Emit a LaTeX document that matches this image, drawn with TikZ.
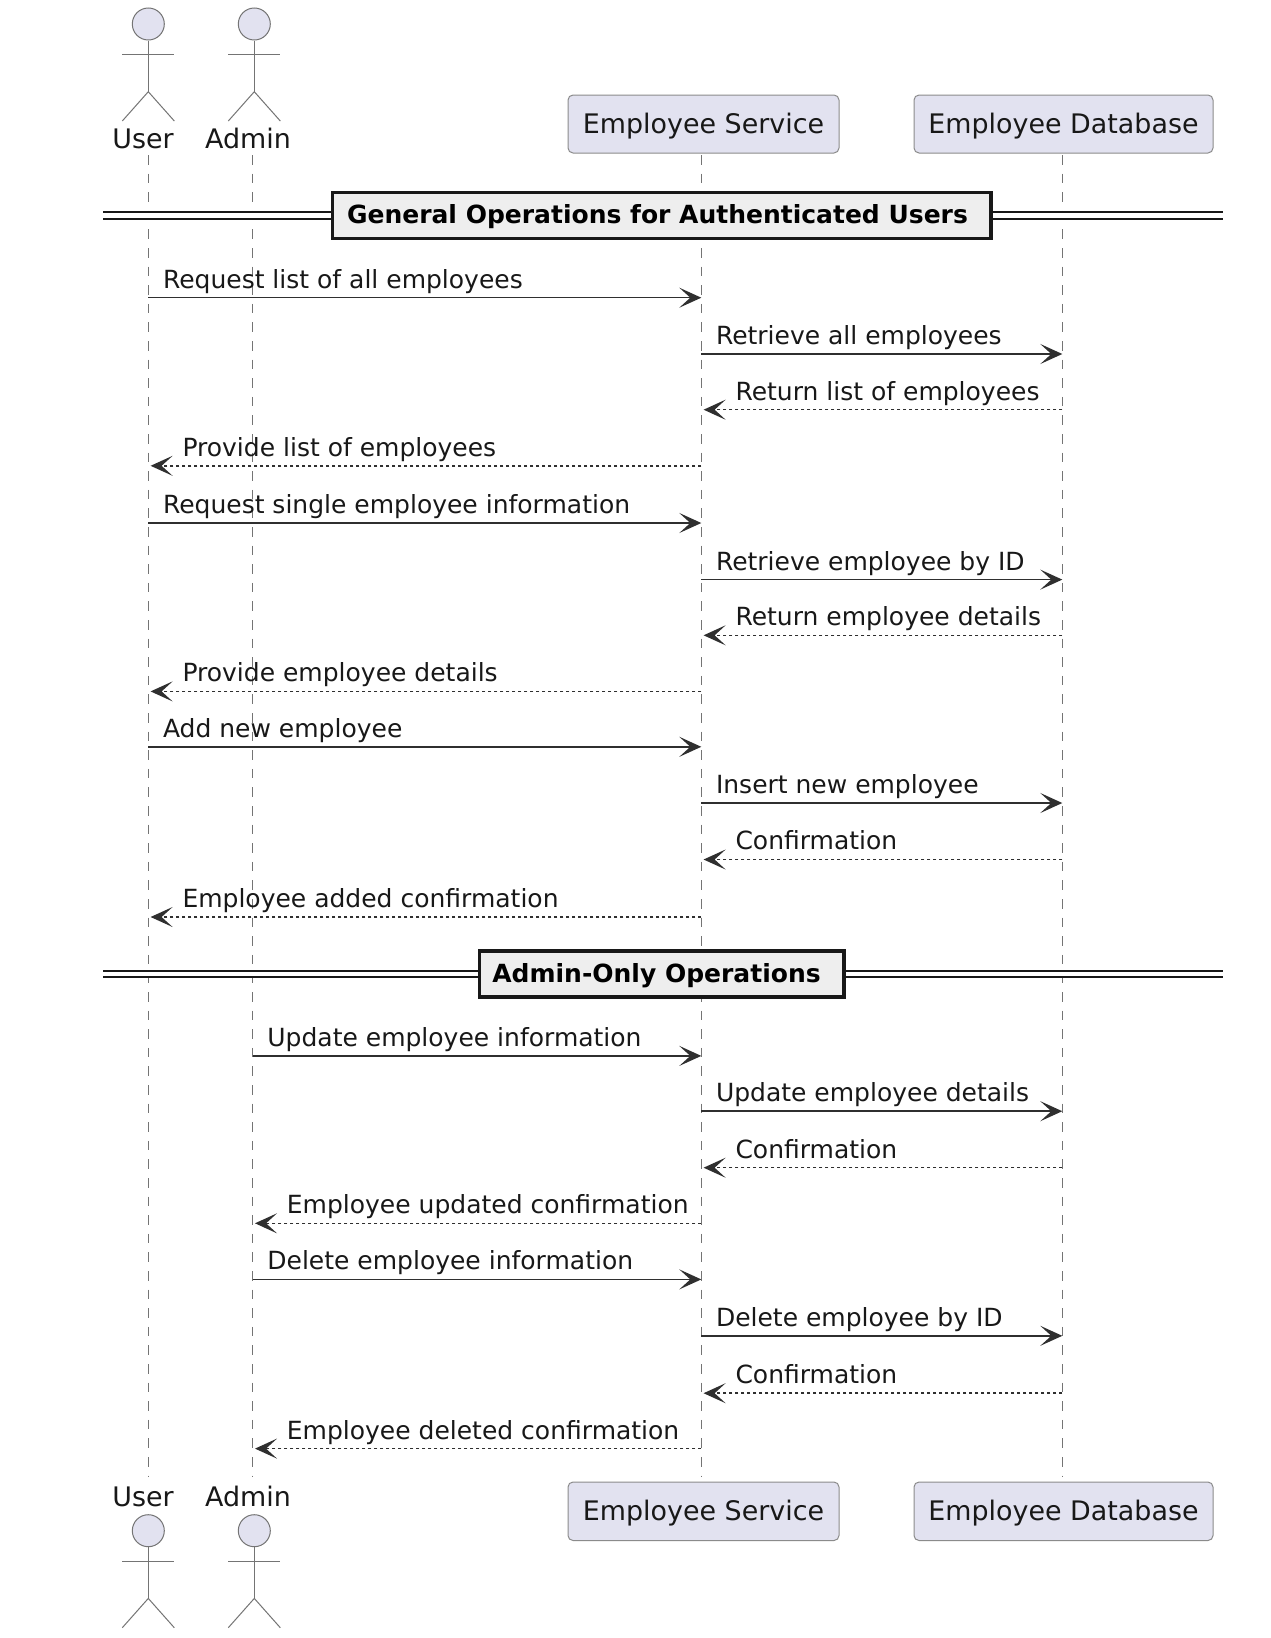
\documentclass[tikz,border=0pt]{standalone}
\usepackage{fontspec}
\setmainfont{DejaVu Sans}
\usetikzlibrary{arrows.meta}
\definecolor{ink}{HTML}{181818}
\definecolor{partfill}{HTML}{E2E2F0}
\definecolor{divfill}{HTML}{EEEEEE}
\tikzset{
 x=1pt,y=-1pt,
 lifeline/.style={draw=ink!60,line width=1pt,dash pattern=on 9.6pt off 9pt},
 partbox/.style={draw=ink!50,fill=partfill,line width=1pt,rounded corners=5pt},
 partlabel/.style={inner sep=0,anchor=base,font=\fontsize{26.9}{30}\selectfont,text=ink},
 actorline/.style={draw=ink!60,line width=1pt},
 actorhead/.style={circle,draw=ink!60,fill=partfill,line width=1pt,minimum size=32pt,inner sep=0},
 msgsolid/.style={draw=ink!90,line width=1.5pt,-{Stealth[length=22pt,width=20pt,inset=11pt]}},
 msgdash/.style={draw=ink!90,line width=1.5pt,dash pattern=on 3pt off 3pt,-{Stealth[length=22pt,width=20pt,inset=11pt]}},
 msglabel/.style={inner sep=0,anchor=base west,font=\fontsize{25}{30}\selectfont,text=ink},
 divbox/.style={draw=ink,fill=divfill,line width=3.4pt},
 divlabel/.style={inner sep=0,anchor=base,font=\fontsize{25}{30}\bfseries\selectfont,text=black},
 divband/.style={fill=white},
 divline/.style={draw=ink,line width=2pt},
}
\newcommand{\actorfig}[4]{% name, x, headY, label: head at y
 \node[actorhead] (#1) at (#2,#3) {};
 \draw[actorline] (#1.south) -- (#2,#3+67.7);
 \draw[actorline] (#2-26,#3+30.7) -- (#2+26,#3+30.7);
 \draw[actorline] (#2-26,#3+97) -- (#2,#3+67.7) -- (#2+26,#3+97);
}
\newcommand{\msgR}[5]{%
 \coordinate (#1a) at (#3,#2); \coordinate (#1b) at (#4,#2);
 \draw[msgsolid] (#1a) -- (#1b);
 \node[msglabel] (#1t) at (#3+14.5,#2-9.6) {#5};
}
\newcommand{\msgL}[5]{%
 \coordinate (#1a) at (#3,#2); \coordinate (#1b) at (#4+2.3,#2);
 \draw[msgdash] (#1a) -- (#1b);
 \node[msglabel] (#1t) at (#4+34,#2-9.6) {#5};
}
\begin{document}
\begin{tikzpicture}
\useasboundingbox (0,0) rectangle (1270,1638);
\fill[white] (0,0) rectangle (1270,1638);
\def\xU{148.3}\def\xA{252.7}\def\xS{701.3}\def\xD{1062.3}
% lifelines
\coordinate (lu1) at (\xU,155); \coordinate (lu2) at (\xU,1477);
\coordinate (la1) at (\xA,155); \coordinate (la2) at (\xA,1477);
\coordinate (ls1) at (\xS,155); \coordinate (ls2) at (\xS,1477);
\coordinate (ld1) at (\xD,155); \coordinate (ld2) at (\xD,1477);
\draw[lifeline] (lu1) -- (lu2);
\draw[lifeline] (la1) -- (la2);
\draw[lifeline] (ls1) -- (ls2);
\draw[lifeline] (ld1) -- (ld2);
% actors top
\actorfig{ut}{148.3}{24}{User}
\actorfig{at}{254.3}{24}{Admin}
\node[partlabel] (utl) at (143,148) {User};
\node[partlabel] (atl) at (248,148) {Admin};
% boxes top
\draw[partbox] (568,95) rectangle (839,153);
\node[partlabel] (st) at (703.5,133) {Employee Service};
\draw[partbox] (914,95) rectangle (1213,153);
\node[partlabel] (dt) at (1063.5,133) {Employee Database};
% actors bottom
\actorfig{ub}{148.3}{1530.7}{User}
\actorfig{ab}{254.3}{1530.7}{Admin}
\node[partlabel] (ubl) at (143,1506.7) {User};
\node[partlabel] (abl) at (248,1506.7) {Admin};
% boxes bottom
\draw[partbox] (568,1482) rectangle (839,1540.5);
\node[partlabel] (sb) at (703.5,1520) {Employee Service};
\draw[partbox] (914,1482) rectangle (1213,1540.5);
\node[partlabel] (db) at (1063.5,1520) {Employee Database};
% dividers
\fill[divband] (103,212) rectangle (1223,218.5);
\draw[divline] (103,212) -- (1223,212);
\draw[divline] (103,218.5) -- (1223,218.5);
\draw[divbox] (332.5,192.7) rectangle (991,238.5);
\node[divlabel] (d1) at (657.5,223.5) {General Operations for Authenticated Users};
\fill[divband] (103,970.5) rectangle (1223,977);
\draw[divline] (103,970.5) -- (1223,970.5);
\draw[divline] (103,977) -- (1223,977);
\draw[divbox] (479.5,951) rectangle (844,996.8);
\node[divlabel] (d2) at (656.5,982.3) {Admin-Only Operations};
% messages
\msgR{m1}{297.7}{\xU}{\xS}{Request list of all employees}
\msgR{m2}{354}{\xS}{\xD}{Retrieve all employees}
\msgL{m3}{409.7}{\xD}{\xS}{Return list of employees}
\msgL{m4}{465.8}{\xS}{\xU}{Provide list of employees}
\msgR{m5}{523}{\xU}{\xS}{Request single employee information}
\msgR{m6}{579.6}{\xS}{\xD}{Retrieve employee by ID}
\msgL{m7}{635.3}{\xD}{\xS}{Return employee details}
\msgL{m8}{691.4}{\xS}{\xU}{Provide employee details}
\msgR{m9}{746.8}{\xU}{\xS}{Add new employee}
\msgR{m10}{803}{\xS}{\xD}{Insert new employee}
\msgL{m11}{859.5}{\xD}{\xS}{Confirmation}
\msgL{m12}{917}{\xS}{\xU}{Employee added confirmation}
\msgR{m13}{1055.9}{\xA}{\xS}{Update employee information}
\msgR{m14}{1111.2}{\xS}{\xD}{Update employee details}
\msgL{m15}{1167.7}{\xD}{\xS}{Confirmation}
\msgL{m16}{1223.3}{\xS}{\xA}{Employee updated confirmation}
\msgR{m17}{1279.4}{\xA}{\xS}{Delete employee information}
\msgR{m18}{1335.8}{\xS}{\xD}{Delete employee by ID}
\msgL{m19}{1393.2}{\xD}{\xS}{Confirmation}
\msgL{m20}{1448.6}{\xS}{\xA}{Employee deleted confirmation}
\end{tikzpicture}
\end{document}
